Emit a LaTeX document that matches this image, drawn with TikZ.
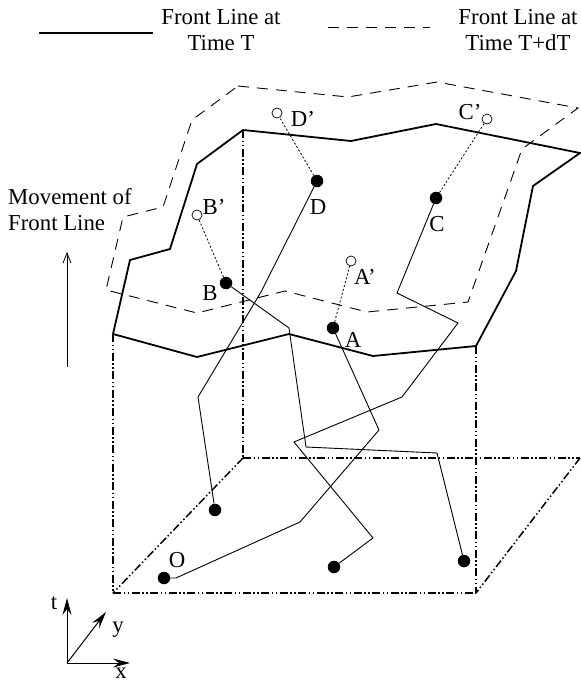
\documentclass[tikz,border=0pt]{standalone}
\usepackage{fontspec}
\setmainfont{Liberation Serif}
\usetikzlibrary{arrows.meta}
\newcommand\lblfont{\fontsize{22.8}{26}\selectfont}
\begin{document}
\begin{tikzpicture}[x=1pt,y=-1pt,
  frontT/.style={line width=1.8pt, line join=miter},
  frontdT/.style={line width=0.9pt, dash pattern=on 11pt off 8pt},
  boxline/.style={line width=1.5pt, dash pattern=on 8pt off 2.5pt on 1.5pt off 2.5pt on 1.5pt off 2.5pt},
  traj/.style={line width=0.9pt, line join=miter},
  link/.style={line width=0.8pt, dash pattern=on 2pt off 2pt},
  dot/.style={circle, fill=black, minimum size=12.5pt, inner sep=0pt},
  odot/.style={circle, draw, line width=0.7pt, minimum size=10pt, inner sep=0pt},
  lbl/.style={font=\lblfont, inner sep=0pt},
  axis/.style={line width=1pt, -{Stealth[length=17pt,width=9pt,inset=6pt]}},
]
\useasboundingbox (0,0) rectangle (581,686);

% legend
\draw[line width=1.9pt] (39,33) -- (153,33);
\node[lbl, align=center] (legT) at (221,30) {Front Line at\\Time T};
\draw[frontdT] (328,27) -- (430,27);
\node[lbl, align=center] (legdT) at (518,30) {Front Line at\\Time T+dT};

% movement
\node[lbl, align=left, anchor=west] (mov) at (8,210) {Movement of\\Front Line};
\coordinate (mv1) at (67,367);
\coordinate (mv2) at (67,252);
\draw[line width=0.8pt, -{Straight Barb[length=10pt,width=8pt]}] (mv1) -- (mv2);

% box corners
\coordinate (S1) at (243,130);
\coordinate (S7) at (476,346);
\coordinate (S11) at (113,334);
\coordinate (F2) at (113,593);
\coordinate (F3) at (476,593);
\coordinate (K2) at (243,458);
\coordinate (K3) at (580,458);

\draw[boxline] (S11) -- (F2);
\draw[boxline] (F2) -- (F3);
\draw[boxline] (S7) -- (F3);
\draw[boxline] (S1) -- (K2);
\draw[boxline] (K2) -- (K3);
\draw[boxline] (K2) -- (F2);
\draw[boxline] (K3) -- (F3);

% front line at time T
\draw[frontT] (S1) -- (351,141) -- (436,124) -- (580,153) -- (533,186) -- (516,271)
  -- (S7) -- (373,356) -- (289,334) -- (197,357) -- (S11) -- (130,260) -- (170,249)
  -- (197,164) -- cycle;

% front line at time T+dT
\draw[frontdT] (238,86) -- (348,97) -- (437,82) -- (578,108) -- (522,149) -- (468,302)
  -- (367,312) -- (285,291) -- (197,313) -- (106,290) -- (123,217) -- (163,207)
  -- (192,120) -- cycle;

% points
\node[dot] (A) at (333,328) {};
\node[dot] (B) at (226,283) {};
\node[dot] (C) at (436,198) {};
\node[dot] (D) at (317,181) {};
\node[dot] (O) at (164,578) {};
\node[dot] (sD) at (215,510) {};
\node[dot] (sC) at (334,567) {};
\node[dot] (sB) at (464,561) {};

\node[odot] (A') at (351,261) {};
\node[odot] (B') at (197,215) {};
\node[odot] (C') at (487,119) {};
\node[odot] (D') at (277,113) {};

% trajectories
\draw[traj] (O) -- (176,578) -- (300,522) -- (379,430) -- (A);
\draw[traj] (sC) -- (373,538) -- (294,442) -- (402,397) -- (458,323) -- (397,293) -- (C);
\draw[traj] (sB) -- (437,453) -- (306,447) -- (289,328) -- (B);
\draw[traj] (sD) -- (198,397) -- (261,292) -- (D);

% links
\draw[link] (A) -- (A');
\draw[link] (B) -- (B');
\draw[link] (C) -- (C');
\draw[link] (D) -- (D');

% labels
\node[lbl] (lA) at (353,340) {A};
\node[lbl] (lB) at (210,293) {B};
\node[lbl] (lC) at (437,224) {C};
\node[lbl] (lD) at (318,207) {D};
\node[lbl] (lO) at (177,560) {O};
\node[lbl] (lA') at (365,277) {A'};
\node[lbl] (lB') at (214,207) {B'};
\node[lbl] (lC') at (470,112) {C'};
\node[lbl] (lD') at (303,119) {D'};

% axes
\coordinate (orig) at (67,663);
\coordinate (tend) at (67,598);
\coordinate (xend) at (130,663);
\coordinate (yend) at (106,612);
\draw[axis] (orig) -- (tend);
\draw[axis] (orig) -- (xend);
\draw[axis] (orig) -- (yend);
\node[lbl] (lt) at (54,603) {t};
\node[lbl] (ly) at (118,630) {y};
\node[lbl] (lx) at (121,673) {x};
\end{tikzpicture}
\end{document}
